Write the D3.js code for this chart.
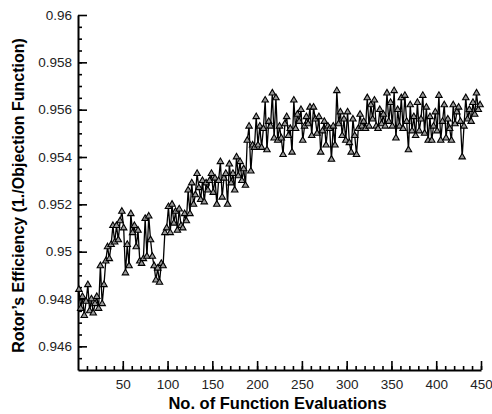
<!DOCTYPE html>
<html>
<head>
<meta charset="utf-8">
<script src="https://cdn.jsdelivr.net/npm/d3@7"></script>
<style>
  body { margin: 0; background: #fff; }
  svg { display: block; font-family: "Liberation Sans", Arial, sans-serif; }
</style>
</head>
<body>
<svg id="chart"></svg>
<script>
// optimisation history: one value every 2 function evaluations (x = 1, 3, 5, ...)
const firstEval = 1
const evalStep = 2

const eff001_099 = [
  0.9484, 0.9476, 0.9481, 0.9473, 0.9479, 0.9486, 0.9475, 0.9480, 0.9474, 0.9478,
  0.9481, 0.9476, 0.9494, 0.9478, 0.9486, 0.9496, 0.9502, 0.9497, 0.9503, 0.9511,
  0.9504, 0.9511, 0.9505, 0.9513, 0.9517, 0.9510, 0.9491, 0.9503, 0.9494, 0.9516,
  0.9508, 0.9511, 0.9502, 0.9509, 0.9496, 0.9495, 0.9497, 0.9514, 0.9498, 0.9515,
  0.9505, 0.9498, 0.9494, 0.9488, 0.9493, 0.9487, 0.9495, 0.9494, 0.9508, 0.9510
]
const eff101_199 = [
  0.9519, 0.9508, 0.9520, 0.9512, 0.9517, 0.9509, 0.9518, 0.9511, 0.9510, 0.9516,
  0.9513, 0.9526, 0.9516, 0.9529, 0.9520, 0.9524, 0.9533, 0.9527, 0.9522, 0.9530,
  0.9521, 0.9529, 0.9526, 0.9530, 0.9533, 0.9525, 0.9531, 0.9520, 0.9530, 0.9538,
  0.9523, 0.9531, 0.9533, 0.9520, 0.9537, 0.9529, 0.9533, 0.9526, 0.9540, 0.9532,
  0.9538, 0.9530, 0.9535, 0.9528, 0.9547, 0.9553, 0.9534, 0.9545, 0.9544, 0.9557
]
const eff201_299 = [
  0.9545, 0.9553, 0.9544, 0.9552, 0.9564, 0.9543, 0.9555, 0.9553, 0.9567, 0.9548,
  0.9565, 0.9547, 0.9553, 0.9548, 0.9541, 0.9554, 0.9557, 0.9549, 0.9552, 0.9542,
  0.9564, 0.9552, 0.9558, 0.9555, 0.9560, 0.9547, 0.9553, 0.9557, 0.9554, 0.9561,
  0.9549, 0.9561, 0.9556, 0.9550, 0.9557, 0.9542, 0.9551, 0.9555, 0.9545, 0.9553,
  0.9552, 0.9539, 0.9553, 0.9545, 0.9568, 0.9554, 0.9559, 0.9549, 0.9556, 0.9547
]
const eff301_399 = [
  0.9559, 0.9546, 0.9542, 0.9556, 0.9549, 0.9541, 0.9552, 0.9558, 0.9553, 0.9555,
  0.9552, 0.9565, 0.9553, 0.9562, 0.9556, 0.9564, 0.9553, 0.9552, 0.9560, 0.9554,
  0.9558, 0.9553, 0.9567, 0.9555, 0.9563, 0.9553, 0.9568, 0.9548, 0.9560, 0.9553,
  0.9565, 0.9552, 0.9566, 0.9555, 0.9543, 0.9562, 0.9551, 0.9557, 0.9549, 0.9563,
  0.9551, 0.9556, 0.9566, 0.9550, 0.9561, 0.9547, 0.9557, 0.9547, 0.9553, 0.9559
]
const eff401_449 = [
  0.9551, 0.9566, 0.9547, 0.9555, 0.9562, 0.9548, 0.9556, 0.9552, 0.9547, 0.9562,
  0.9554, 0.9559, 0.9561, 0.9555, 0.9540, 0.9553, 0.9565, 0.9556, 0.9560, 0.9555,
  0.9563, 0.9558, 0.9567, 0.9560, 0.9562
]

const xTicks = [50, 100, 150, 200, 250, 300, 350, 400, 450]
const yTicks = [0.946, 0.948, 0.95, 0.952, 0.954, 0.956, 0.958, 0.96]
const yTickLabels = ["0.946", "0.948", "0.95", "0.952", "0.954", "0.956", "0.958", "0.96"]

const efficiency = [].concat(eff001_099, eff101_199, eff201_299, eff301_399, eff401_449)
const data = efficiency.map((v, i) => ({ n: firstEval + i * evalStep, value: v }))

let svgWidth = 492
let svgHeight = 414
let margin = { left: 78, right: 11, top: 15, bottom: 44 }
let chartWidth = svgWidth - margin.left - margin.right
let chartHeight = svgHeight - margin.top - margin.bottom

const svg = d3.select("#chart")
  .attr("width", svgWidth)
  .attr("height", svgHeight)

const g = svg.append("g")
  .attr("transform", `translate(${margin.left}, ${margin.top})`)

const x = d3.scaleLinear().domain([0, 450]).range([0, chartWidth])
const y = d3.scaleLinear().domain([0.945, 0.96]).range([chartHeight, 0])

// minor ticks first (inward)
g.append("g")
  .attr("transform", `translate(0, ${chartHeight})`)
  .call(d3.axisBottom(x).tickValues(d3.range(10, 451, 10)).tickSize(-4).tickFormat(""))
  .call(a => a.select(".domain").remove())
g.append("g")
  .call(d3.axisLeft(y).tickValues(d3.range(0.9455, 0.96, 0.0005)).tickSize(-4).tickFormat(""))
  .call(a => a.select(".domain").remove())

// major ticks
const xAxis = g.append("g")
  .attr("transform", `translate(0, ${chartHeight})`)
  .call(d3.axisBottom(x).tickValues(xTicks).tickSizeInner(-9).tickSizeOuter(0).tickPadding(9))
const yAxis = g.append("g")
  .call(d3.axisLeft(y).tickValues(yTicks).tickSizeInner(-9).tickSizeOuter(0).tickPadding(6)
    .tickFormat((d, i) => yTickLabels[i]))

g.selectAll(".tick line").attr("stroke", "#000").attr("stroke-width", 1.6)
xAxis.select(".domain").attr("stroke", "#000").attr("stroke-width", 2)
yAxis.select(".domain").attr("stroke", "#000").attr("stroke-width", 2)
g.selectAll(".tick text").style("font-size", "13.5px").attr("fill", "#222")

// the line
g.append("path")
  .datum(data)
  .attr("fill", "none")
  .attr("stroke", "#000")
  .attr("stroke-width", 1.3)
  .attr("d", d3.line().x(d => x(d.n)).y(d => y(d.value)))

// triangle markers
const tri = d3.symbol().type(d3.symbolTriangle).size(18)
g.append("g")
  .selectAll("path")
  .data(data)
  .join("path")
  .attr("transform", d => `translate(${x(d.n)}, ${y(d.value)})`)
  .attr("d", tri)
  .attr("fill", "#999")
  .attr("stroke", "#000")
  .attr("stroke-width", 1.1)

// axis titles
svg.append("text")
  .attr("x", margin.left + x(225) - 2)
  .attr("y", 409)
  .attr("text-anchor", "middle")
  .style("font-size", "16.5px")
  .style("font-weight", "bold")
  .text("No. of Function Evaluations")

svg.append("text")
  .attr("transform", `translate(24, ${margin.top + chartHeight / 2 + 3}) rotate(-90)`)
  .attr("text-anchor", "middle")
  .style("font-size", "16px")
  .style("font-weight", "bold")
  .text("Rotor’s Efficiency (1./Objection Function)")
</script>
</body>
</html>
